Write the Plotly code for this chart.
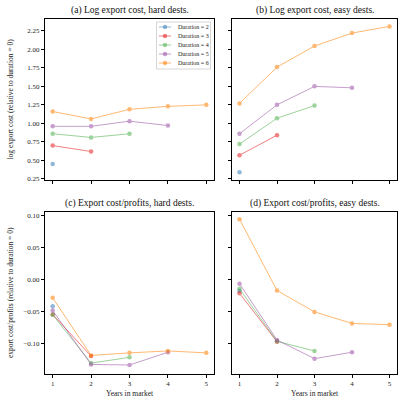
import plotly.graph_objects as go

years = [1, 2, 3, 4, 5]
durations = [2, 3, 4, 5, 6]
colors = ["#377eb8", "#e41a1c", "#4daf4a", "#984ea3", "#ff7f00"]

# (a) Log export cost, hard dests.
log_hard = {
    2: [0.45],
    3: [0.70, 0.62],
    4: [0.86, 0.81, 0.86],
    5: [0.96, 0.96, 1.03, 0.97],
    6: [1.16, 1.06, 1.19, 1.23, 1.25],
}
# (b) Log export cost, easy dests.
log_easy = {
    2: [0.34],
    3: [0.57, 0.84],
    4: [0.72, 1.07, 1.24],
    5: [0.86, 1.25, 1.50, 1.48],
    6: [1.27, 1.76, 2.045, 2.22, 2.31],
}
# (c) Export cost/profits, hard dests.
prof_hard = {
    2: [-0.041],
    3: [-0.054, -0.119],
    4: [-0.0545, -0.130, -0.121],
    5: [-0.048, -0.132, -0.133, -0.113],
    6: [-0.028, -0.118, -0.114, -0.111, -0.114],
}
# (d) Export cost/profits, easy dests.
prof_easy = {
    2: [-0.017],
    3: [-0.021, -0.0965],
    4: [-0.014, -0.096, -0.111],
    5: [-0.006, -0.094, -0.123, -0.113],
    6: [0.0948, -0.0166, -0.050, -0.068, -0.070],
}

titles = ["(a) Log export cost, hard dests.", "(b) Log export cost, easy dests.",
          "(c) Export cost/profits, hard dests.", "(d) Export cost/profits, easy dests."]
ylabel_top = "log export cost (relative to duration = 0)"
ylabel_bot = "export cost/profits (relative to duration = 0)"
xlabel = "Years in market"
legend_labels = [f"Duration = {d}" for d in durations]

FONT = "Liberation Serif"
ALPHA = 0.55
W, H = 399, 398
fig = go.Figure()

panels = [(log_hard, "x", "y"), (log_easy, "x2", "y2"), (prof_hard, "x3", "y3"), (prof_easy, "x4", "y4")]
for pi, (data, xa, ya) in enumerate(panels):
    for d, c in zip(durations, colors):
        vals = data[d]
        fig.add_trace(go.Scatter(
            x=years[:len(vals)], y=vals, xaxis=xa, yaxis=ya,
            mode="lines+markers", name=f"Duration = {d}",
            line=dict(color=c, width=1), marker=dict(color=c, size=4.5),
            opacity=ALPHA, showlegend=False))

xl = [45/W, 214/W]
xr = [232/W, 397/W]
yt = [1-180/H, 1-19/H]
yb = [1-374/H, 1-212/H]

axcommon = dict(showline=True, mirror=True, linecolor="black", linewidth=1,
                ticks="outside", ticklen=3, tickwidth=0.8, tickcolor="black",
                showgrid=False, zeroline=False, automargin=False,
                tickfont=dict(family=FONT, size=7, color="#222"))
xcommon = dict(axcommon, range=[0.8, 5.2], tickvals=years)
ytop = dict(axcommon, range=[0.235, 2.41], tickvals=[0.25, 0.5, 0.75, 1.0, 1.25, 1.5, 1.75, 2.0, 2.25],
            tickformat=".2f")
ybot = dict(axcommon, range=[-0.147, 0.106], tickvals=[-0.10, -0.05, 0.0, 0.05, 0.10],
            tickformat=".2f")

fig.update_layout(
    width=W, height=H, margin=dict(l=0, r=0, t=0, b=0, autoexpand=False),
    paper_bgcolor="white", plot_bgcolor="white",
    font=dict(family=FONT, color="#222"),
    xaxis=dict(xcommon, domain=xl, anchor="y", showticklabels=False),
    yaxis=dict(ytop, domain=yt, anchor="x"),
    xaxis2=dict(xcommon, domain=xr, anchor="y2", showticklabels=False),
    yaxis2=dict(ytop, domain=yt, anchor="x2", showticklabels=False),
    xaxis3=dict(xcommon, domain=xl, anchor="y3"),
    yaxis3=dict(ybot, domain=yb, anchor="x3"),
    xaxis4=dict(xcommon, domain=xr, anchor="y4"),
    yaxis4=dict(ybot, domain=yb, anchor="x4", showticklabels=False),
    showlegend=False,
)

title_pos = [((xl[0]+xl[1])/2, 1-11/H), ((xr[0]+xr[1])/2, 1-11/H),
             ((xl[0]+xl[1])/2, 1-203/H), ((xr[0]+xr[1])/2, 1-203/H)]
for t, (x, y) in zip(titles, title_pos):
    fig.add_annotation(text=t, x=x, y=y, xref="paper", yref="paper", showarrow=False,
                       xanchor="center", yanchor="middle", font=dict(family=FONT, size=9.5, color="#111"))

# axis titles
for txt, yc in [(ylabel_top, (yt[0]+yt[1])/2), (ylabel_bot, (yb[0]+yb[1])/2)]:
    fig.add_annotation(text=txt, x=10/W, y=yc, xref="paper", yref="paper", showarrow=False,
                       textangle=-90, xanchor="center", yanchor="middle",
                       font=dict(family=FONT, size=7.5, color="#222"))
for xc in [(xl[0]+xl[1])/2, (xr[0]+xr[1])/2]:
    fig.add_annotation(text=xlabel, x=xc, y=1-393/H, xref="paper", yref="paper", showarrow=False,
                       xanchor="center", yanchor="middle", font=dict(family=FONT, size=7.5, color="#222"))

# compact legend (matplotlib-style) inside panel (a)
lx0, lx1, ly0, ly1 = 156.5, 210.5, 22, 69
fig.add_shape(type="rect", xref="paper", yref="paper",
              x0=lx0/W, x1=lx1/W, y0=1-ly1/H, y1=1-ly0/H,
              line=dict(color="#cccccc", width=0.8), fillcolor="rgba(255,255,255,0.85)", layer="above")
for i, (lab, c) in enumerate(zip(legend_labels, colors)):
    yy = 27 + i * 9.0
    fig.add_shape(type="line", xref="paper", yref="paper",
                  x0=159/W, x1=171/W, y0=1-yy/H, y1=1-yy/H,
                  line=dict(color=c, width=1), opacity=ALPHA, layer="above")
    fig.add_shape(type="circle", xref="paper", yref="paper",
                  x0=162.8/W, x1=167.2/W, y0=1-(yy+2.2)/H, y1=1-(yy-2.2)/H,
                  line=dict(width=0), fillcolor=c, opacity=ALPHA, layer="above")
    fig.add_annotation(text=lab, x=176/W, y=1-yy/H, xref="paper", yref="paper", showarrow=False,
                       xanchor="left", yanchor="middle", font=dict(family=FONT, size=6, color="#222"))

fig.write_html("out.html", config={"displayModeBar": False},
               post_script="document.body.style.margin='0';document.body.style.overflow='hidden';")
